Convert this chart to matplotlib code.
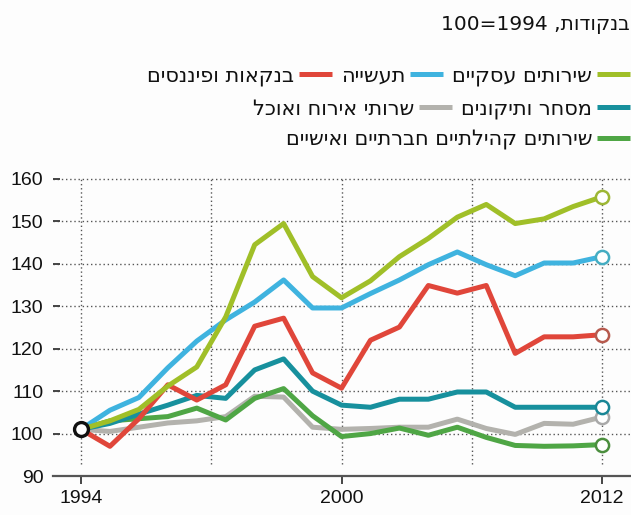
# plot.py - wage index by sector, 1994=100

import matplotlib
matplotlib.use("Agg")
import matplotlib.pyplot as plt
from matplotlib.lines import Line2D

#==================================================================================================================

years = [1994, 1995, 1996, 1997, 1998, 1999, 2000, 2001, 2002, 2003,
         2004, 2005, 2006, 2007, 2008, 2009, 2010, 2011, 2012]

business = [101, 103, 105.7, 111.2, 115.7, 127.5, 144.5, 149.5, 137, 132,
            136, 141.7, 146, 151, 154, 149.5, 150.6, 153.5, 155.8]
industry = [101, 105.5, 108.5, 115.5, 121.8, 126.8, 131, 136.2, 129.6, 129.6,
            133, 136.2, 139.8, 142.8, 139.8, 137.2, 140.2, 140.2, 141.7]
banking = [101, 97, 103.5, 111.5, 107.9, 111.5, 125.3, 127.2, 114.3, 110.7,
           122, 125.1, 134.9, 133.1, 134.9, 118.9, 122.8, 122.8, 123.3]
trade = [101, 102.4, 104.6, 106.7, 109, 108.3, 115, 117.6, 110, 106.7,
         106.2, 108.1, 108.1, 109.8, 109.8, 106.2, 106.2, 106.2, 106.2]
hospitality = [101, 100.5, 101.5, 102.5, 103, 104, 108.8, 108.6, 101.5, 101,
               101.2, 101.5, 101.5, 103.4, 101.2, 99.8, 102.4, 102.2, 103.9]
community = [101, 103, 103.5, 104, 106, 103.2, 108.3, 110.6, 104.2, 99.3,
             100, 101.3, 99.6, 101.5, 99.1, 97.2, 97, 97.1, 97.4]

labels = ["שירותים עסקיים", "תעשייה", "בנקאות ופיננסים",
          "מסחר ותיקונים", "שרותי אירוח ואוכל",
          "שירותים קהילתיים חברתיים ואישיים"]

y_ticks = [90, 100, 110, 120, 130, 140, 150, 160]
x_tick_pos = [0, 9, 18]
x_tick_labels = ["1994", "2000", "2012"]

#==================================================================================================================

def heb(s):
    """matplotlib has no bidi, so hebrew is written in visual order"""
    return s[::-1]


def legend_row(fig, renderer, entries, y_px, W, H):
    x_right = 630
    for label, color in entries:
        fig.add_artist(Line2D([(x_right - 33) / W, x_right / W], [1 - y_px / H] * 2,
                              transform=fig.transFigure, color=color, lw=3.6,
                              solid_capstyle="butt"))
        t = fig.text((x_right - 38) / W, 1 - y_px / H, heb(label), ha="right",
                     va="center_baseline", fontsize=15, family="DejaVu Sans", color="#111111")
        bb = t.get_window_extent(renderer)
        x_right = bb.x0 - 9

#==================================================================================================================

def main():
    W, H = 631, 515
    fig = plt.figure(figsize=(W / 100, H / 100), dpi=100)
    fig.patch.set_facecolor("#fdfdfd")
    ax = fig.add_axes([53 / W, 39 / H, 578 / W, 300.4 / H])
    ax.set_facecolor("#fdfdfd")

    x = list(range(len(years)))
    series = [
        (hospitality, "#b3b2ad", "#a9a9a9"),
        (community, "#4fa645", "#4b8e3e"),
        (trade, "#17909d", "#1a8796"),
        (banking, "#e0463a", "#b75a4e"),
        (industry, "#3fb3df", "#45adc2"),
        (business, "#a0bf28", "#9db735"),
    ]
    for vals, col, end_col in series:
        ax.plot(x, vals, color=col, lw=3.6, solid_joinstyle="round", zorder=3)
        ax.plot(x[-1], vals[-1], "o", ms=9.5, mfc="white", mec=end_col, mew=1.8, zorder=5)

    ax.plot(x[0], business[0], "o", ms=10, mfc="white", mec="#111111", mew=2.4, zorder=6)

    ax.set_xlim(-0.967, 19.0)
    ax.set_ylim(90, 160.8)

    # grid
    for v in y_ticks[1:]:
        ax.axhline(v, color="#555555", lw=1, ls=(0, (1, 2)), zorder=1)
    ax.vlines([0, 4.5, 9, 13.5, 18], 92.8, 160, color="#555555", lw=1, ls=(0, (1, 2)), zorder=1)

    for s in ["left", "top", "right"]:
        ax.spines[s].set_visible(False)
    ax.spines["bottom"].set_color("#555555")
    ax.spines["bottom"].set_linewidth(1.6)

    ax.set_yticks(y_ticks)
    ax.set_xticks(x_tick_pos)
    ax.set_xticklabels(x_tick_labels)
    ax.tick_params(axis="y", direction="in", length=5, width=1.4, color="#444444", pad=7,
                   labelsize=14, labelcolor="#111111")
    ax.tick_params(axis="x", direction="out", length=6, width=1.4, color="#444444", pad=4,
                   labelsize=14, labelcolor="#111111")
    for lab in ax.get_xticklabels() + ax.get_yticklabels():
        lab.set_family("Liberation Sans")

    # title
    fig.text(630 / W, 1 - 24 / H, "100=1994 ," + heb("בנקודות"), ha="right", va="center",
             fontsize=14.5, family="DejaVu Sans", color="#111111")

    # legend, right to left
    renderer = fig.canvas.get_renderer()
    colors = ["#a0bf28", "#3fb3df", "#e0463a", "#17909d", "#b3b2ad", "#4fa645"]
    legend_row(fig, renderer, list(zip(labels[0:3], colors[0:3])), 74, W, H)
    legend_row(fig, renderer, list(zip(labels[3:5], colors[3:5])), 107, W, H)
    legend_row(fig, renderer, list(zip(labels[5:6], colors[5:6])), 138, W, H)

    fig.savefig("out.png", dpi=100, facecolor=fig.get_facecolor())


if __name__ == "__main__":
    main()
